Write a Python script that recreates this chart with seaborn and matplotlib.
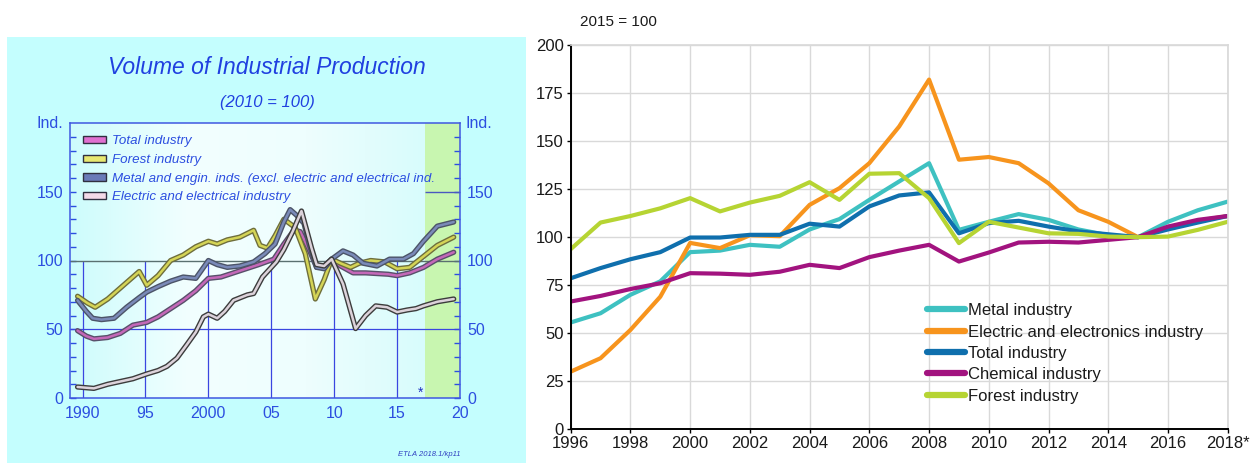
import numpy as np
import pandas as pd
import matplotlib
matplotlib.use('Agg')
import matplotlib.pyplot as plt
import matplotlib.patheffects as pe
from matplotlib.patches import Rectangle, Patch
from matplotlib.colors import LinearSegmentedColormap
import seaborn as sns

# ---- left chart: Volume of Industrial Production (2010 = 100)
total_x = [1989.6, 1990.3, 1990.9, 1992.0, 1993.0, 1994.0, 1995.1, 1996.0, 1997.0, 1998.0,
           1999.0, 2000.0, 2001.0, 2002.0, 2003.0, 2004.0, 2005.2, 2006.0, 2006.8, 2007.3,
           2008.0, 2008.6, 2009.2, 2009.8, 2010.5, 2011.5, 2012.5, 2013.4, 2014.3, 2015.0,
           2016.0, 2017.1, 2018.2, 2019.5]
total_y = [49, 45, 43, 44, 47, 53, 55, 59, 65, 71, 78, 87, 88, 91, 94, 97, 101, 112, 122, 121,
           108, 95, 96, 101, 96, 91, 91, 90.5, 90, 89, 91, 95, 101, 106]

forest_x = [1989.6, 1990.4, 1991.0, 1992.0, 1993.0, 1994.0, 1994.5, 1995.1, 1996.0, 1997.0,
            1998.0, 1999.0, 2000.0, 2000.7, 2001.5, 2002.5, 2003.6, 2004.1, 2004.7, 2005.3,
            2006.0, 2006.9, 2007.7, 2008.5, 2009.2, 2009.8, 2010.5, 2011.3, 2012.0, 2012.9,
            2014.0, 2015.0, 2016.0, 2017.1, 2018.2, 2019.5]
forest_y = [74, 69, 66, 72, 80, 88, 92, 82, 89, 100, 104, 110, 114, 112, 115, 117, 122, 111, 109,
            118, 130, 124, 105, 72, 86, 101, 98, 95, 98, 100, 99, 94, 95, 103, 111, 117]

metal_x = [1989.6, 1990.3, 1990.8, 1991.5, 1992.5, 1993.5, 1994.5, 1995.1, 1996.0, 1997.0,
           1998.0, 1999.0, 2000.0, 2000.7, 2001.5, 2002.5, 2003.6, 2004.5, 2005.3, 2006.0,
           2006.5, 2007.0, 2007.6, 2008.0, 2008.6, 2009.2, 2009.8, 2010.7, 2011.5, 2012.3,
           2013.4, 2014.4, 2015.5, 2016.3, 2017.1, 2018.2, 2019.5]
metal_y = [71, 63, 58, 57, 58, 66, 73, 77, 81, 85, 88, 87, 100, 97, 95, 96, 99, 105, 112, 128,
           137, 133, 127, 112, 95, 94, 101, 107, 104, 98, 96, 101, 101, 105, 114, 125, 128]

electric_x = [1989.6, 1990.9, 1992.0, 1993.0, 1994.0, 1995.1, 1996.0, 1996.7, 1997.5, 1998.3,
              1999.0, 1999.6, 2000.0, 2000.7, 2001.3, 2002.0, 2003.1, 2003.6, 2004.3, 2004.8,
              2005.4, 2006.0, 2006.7, 2007.4, 2008.2, 2008.6, 2009.2, 2009.8, 2010.7, 2011.7,
              2012.5, 2013.3, 2014.2, 2015.0, 2015.8, 2016.5, 2017.1, 2018.2, 2019.5]
electric_y = [8, 7, 10, 12, 14, 17.5, 20, 23, 29, 39, 48, 59, 61, 58, 63, 71, 75, 76, 88, 93,
              99, 108, 121, 136, 109, 97, 96, 101, 83, 50.5, 60, 67, 66, 62.5, 64, 65, 67, 70, 72]

left_names = ['Total industry', 'Forest industry',
              'Metal and engin. inds. (excl. electric and electrical ind.',
              'Electric and electrical industry']

# ---- right chart: 2015 = 100
years = list(range(1996, 2019))
metal = [55.6, 60.4, 70, 77, 92.2, 93, 96, 95, 104, 109.4, 119.4, 129, 138.5, 103.8, 108, 112,
         109, 104, 101, 100, 108, 114, 118.5]
electric = [30, 37, 51.7, 69, 97, 94.3, 101, 100.5, 116.8, 125.5, 138.5, 157.6, 182, 140.3,
            141.7, 138.5, 128, 114, 108, 100, 105, 108.5, 111]
total = [78.6, 83.9, 88.5, 92.2, 99.8, 99.8, 101.2, 101.2, 107, 105.5, 116, 121.7, 123.3, 102,
         107.3, 108.5, 105.5, 103, 101.5, 100, 104, 107.6, 111]
chemical = [66.5, 69.4, 73, 76, 81.25, 81, 80.4, 82, 85.6, 83.9, 89.6, 93, 96, 87.3, 92, 97.2,
            97.6, 97.2, 98.6, 100, 105.5, 109, 111]
forest = [93.75, 107.6, 111, 115, 120.3, 113.4, 118, 121.5, 128.6, 119.4, 133, 133.3, 120.3,
          96.9, 108, 105, 102, 101.7, 100.3, 100, 100.3, 103.8, 108]
right_names = ['Metal industry', 'Electric and electronics industry', 'Total industry',
               'Chemical industry', 'Forest industry']
right_colors = ['#3ec1c1', '#f7941d', '#0f6fad', '#a2137f', '#b6d433']
year_labels = [str(y) for y in range(1996, 2018, 2)] + ['2018*']

sns.set_theme(style='white')
plt.rcParams['font.family'] = ['Liberation Sans', 'DejaVu Sans']

W, H = 1251, 463
fig = plt.figure(figsize=(W / 100, H / 100), dpi=100)
fig.patches.append(Rectangle((7 / W, 0), 519 / W, 426 / H, transform=fig.transFigure,
                             facecolor='#c4fefe', edgecolor='none', zorder=-5))

blue = '#2c4ee0'
ax1 = fig.add_axes([70 / W, 1 - 398 / H, 390 / W, 275 / H])
ax1.set_facecolor('none')
cm = LinearSegmentedColormap.from_list('bg', ['#cdfcfc', '#f2ffff', '#eefefe', '#d8fcfc'])
grad = np.linspace(0, 1, 200).reshape(1, -1)
ax1.imshow(grad, extent=[1989, 2017.2, 0, 200], aspect='auto', cmap=cm, zorder=0)
ax1.axvspan(2017.2, 2020, color='#c8f6b0', zorder=0.5, lw=0)

ax1.vlines([1990, 1995, 2000, 2005, 2010, 2015], 0, 100, color='#3a46e0', lw=0.9, zorder=1)
ax1.axhline(50, color='#3a46e0', lw=0.9, zorder=1)
ax1.axhline(100, color='#5a7070', lw=1.0, zorder=1)
ax1.hlines(150, 2017.2, 2020, color='#4a58c0', lw=1.0, zorder=1)

left = pd.concat([
    pd.DataFrame({'year': total_x, 'value': total_y, 'series': left_names[0]}),
    pd.DataFrame({'year': forest_x, 'value': forest_y, 'series': left_names[1]}),
    pd.DataFrame({'year': metal_x, 'value': metal_y, 'series': left_names[2]}),
    pd.DataFrame({'year': electric_x, 'value': electric_y, 'series': left_names[3]}),
])
inner = ['#c468b8', '#d4d456', '#7a8ab8', '#dcd2da']
outer = ['#58506a', '#6e6e3c', '#4c5468', '#3c3c3c']
sns.lineplot(data=left, x='year', y='value', hue='series', hue_order=left_names,
             palette=inner, estimator=None, sort=False, legend=False, lw=1.8, ax=ax1, zorder=3)
for ln, oc in zip(ax1.lines[-4:], outer):
    ln.set_path_effects([pe.Stroke(linewidth=3.8, foreground=oc), pe.Normal()])

ax1.set_xlim(1989, 2020)
ax1.set_ylim(0, 200)
ax1.set_xlabel('')
ax1.set_ylabel('')
ax1.set_xticks(range(1990, 2021, 5))
ax1.set_xticklabels(['1990', '95', '2000', '05', '10', '15', '20'])
ax1.set_xticks(range(1990, 2020), minor=True)
ax1.set_yticks([0, 50, 100, 150])
ax1.set_yticks(range(0, 200, 10), minor=True)
ax1.tick_params(axis='x', which='both', direction='in', length=5, width=1, color=blue,
                labelcolor=blue, labelsize=11.5, pad=6, top=False)
ax1.tick_params(axis='y', which='both', direction='in', length=4, width=1, color=blue,
                labelcolor=blue, labelsize=11.5, left=True, right=True,
                labelleft=True, labelright=True, pad=5)
for s in ax1.spines.values():
    s.set_color('#4058e0')
    s.set_linewidth(1.1)
ax1.text(-0.018, 1.0, 'Ind.', transform=ax1.transAxes, ha='right', va='center',
         color=blue, fontsize=11.5)
ax1.text(1.013, 1.0, 'Ind.', transform=ax1.transAxes, ha='left', va='center',
         color=blue, fontsize=11.5)
ax1.text(2016.9, 4, '*', color='#2030c0', fontsize=10, ha='center', va='center')

patch_fc = ['#e070d0', '#e8e870', '#6a7ab8', '#f4dae8']
handles = [Patch(facecolor=c, edgecolor='#303040', lw=1) for c in patch_fc]
leg1 = ax1.legend(handles, left_names, loc='upper left', bbox_to_anchor=(0.033, 0.955),
                  frameon=False, fontsize=9.6, handlelength=1.7, handleheight=0.45,
                  handletextpad=0.5, labelspacing=0.5, borderpad=0, borderaxespad=0)
for t in leg1.get_texts():
    t.set_color(blue)
    t.set_style('italic')

fig.text(267 / W, 1 - 67 / H, 'Volume of Industrial Production', ha='center', va='center',
         color='#2040e0', fontsize=16.5, style='italic')
fig.text(267 / W, 1 - 102 / H, '(2010 = 100)', ha='center', va='center',
         color='#2040e0', fontsize=12, style='italic')
fig.text(460 / W, 1 - 454 / H, 'ETLA 2018.1/kp11', ha='right', va='center',
         color='#3040c0', fontsize=5.5, style='italic')

# ---- right chart
ax2 = fig.add_axes([570.7 / W, 1 - 429.3 / H, 657 / W, 384.3 / H])
right = pd.DataFrame({'year': years * 5,
                      'value': metal + electric + total + chemical + forest,
                      'series': sum([[n] * len(years) for n in right_names], [])})
sns.lineplot(data=right, x='year', y='value', hue='series', hue_order=right_names,
             palette=right_colors, lw=3, ax=ax2)
ax2.set_xlim(1996, 2018)
ax2.set_ylim(0, 200)
ax2.set_xticks(range(1996, 2019, 2))
ax2.set_xticklabels(year_labels)
ax2.set_yticks(range(0, 201, 25))
ax2.set_xlabel('')
ax2.set_ylabel('')
ax2.grid(True, color='#d9d9d9', lw=1)
ax2.set_axisbelow(True)
ax2.tick_params(direction='out', length=3, width=1, color='black', labelsize=12,
                labelcolor='#1a1a1a', bottom=True, left=True, pad=2)
for k in ['top', 'right']:
    ax2.spines[k].set_color('#d9d9d9')
for k in ['left', 'bottom']:
    ax2.spines[k].set_color('black')
    ax2.spines[k].set_linewidth(1.4)

h, l = ax2.get_legend_handles_labels()
leg2 = ax2.legend(h, l, loc='upper left', bbox_to_anchor=(0.542, 0.328), frameon=False,
                  fontsize=12, handlelength=2.3, handletextpad=0.2, labelspacing=0.38,
                  borderpad=0, borderaxespad=0)
for ln in leg2.get_lines():
    ln.set_linewidth(4.5)
for t in leg2.get_texts():
    t.set_color('#1a1a1a')

fig.text(580 / W, 1 - 21.7 / H, '2015 = 100', ha='left', va='center', fontsize=11,
         color='#1a1a1a')

fig.savefig('out.png', dpi=100)
